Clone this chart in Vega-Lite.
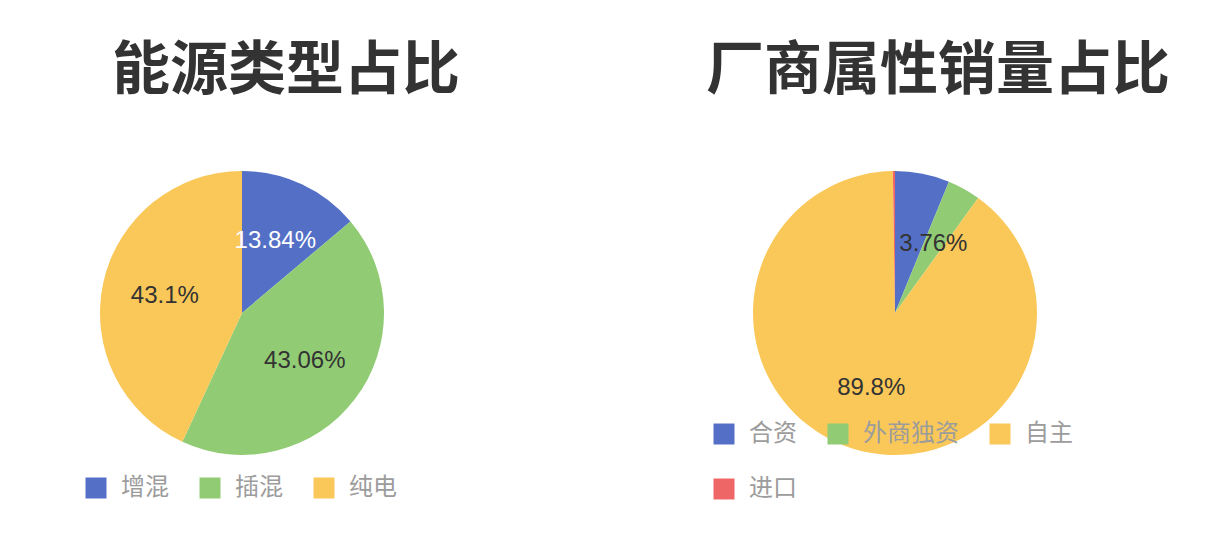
{
  "$schema": "https://vega.github.io/schema/vega-lite/v6.json",
  "background": "white",
  "padding": {"left": 84, "top": 43, "right": 0, "bottom": 4},
  "bounds": "flush",
  "spacing": 369,
  "resolve": {
    "scale": {"color": "independent", "theta": "independent"},
    "legend": {"color": "independent"}
  },
  "config": {
    "view": {"stroke": null},
    "title": {
      "font": "Noto Sans CJK SC",
      "fontSize": 58,
      "fontWeight": "bold",
      "color": "#333333",
      "anchor": "middle",
      "offset": 70
    },
    "legend": {
      "orient": "none",
      "direction": "horizontal",
      "symbolType": "square",
      "symbolSize": 441,
      "symbolStrokeWidth": 0,
      "labelFont": "Noto Sans CJK SC",
      "labelFontSize": 24,
      "labelColor": "#9c9c9c",
      "labelOffset": 13,
      "columnPadding": 29,
      "rowPadding": 31,
      "padding": 0
    }
  },
  "datasets": {
    "energy": [
      {"type": "增混", "share": 0.1384, "n": 1},
      {"type": "插混", "share": 0.4306, "n": 2},
      {"type": "纯电", "share": 0.431, "n": 3}
    ],
    "maker": [
      {"type": "合资", "share": 0.062, "n": 1},
      {"type": "外商独资", "share": 0.0376, "n": 2},
      {"type": "自主", "share": 0.898, "n": 3},
      {"type": "进口", "share": 0.0024, "n": 4}
    ]
  },
  "hconcat": [
    {
      "title": {"text": "能源类型占比", "dx": 44},
      "width": 284,
      "height": 284,
      "data": {"name": "energy"},
      "encoding": {
        "theta": {"field": "share", "type": "quantitative", "stack": true},
        "order": {"field": "n", "type": "quantitative"}
      },
      "layer": [
        {
          "mark": {"type": "arc"},
          "encoding": {
            "color": {
              "field": "type",
              "type": "nominal",
              "scale": {
                "domain": ["增混", "插混", "纯电"],
                "range": ["#5470c6", "#91cc75", "#fac858"]
              },
              "legend": {"title": null, "columns": 3, "legendX": -16, "legendY": 305}
            }
          }
        },
        {
          "mark": {"type": "text", "radius": 79, "font": "Liberation Sans", "fontSize": 24},
          "encoding": {
            "text": {"field": "share", "type": "quantitative", "format": ".2~%"},
            "color": {
              "condition": {"test": "datum.type === '增混'", "value": "#ffffff"},
              "value": "#333333"
            }
          }
        }
      ]
    },
    {
      "title": {"text": "厂商属性销量占比", "dx": 43},
      "width": 284,
      "height": 284,
      "data": {"name": "maker"},
      "encoding": {
        "theta": {"field": "share", "type": "quantitative", "stack": true},
        "order": {"field": "n", "type": "quantitative"}
      },
      "layer": [
        {
          "mark": {"type": "arc"},
          "encoding": {
            "color": {
              "field": "type",
              "type": "nominal",
              "scale": {
                "domain": ["合资", "外商独资", "自主", "进口"],
                "range": ["#5470c6", "#91cc75", "#fac858", "#ee6666"]
              },
              "legend": {"title": null, "columns": 3, "legendX": -41, "legendY": 251}
            }
          }
        },
        {
          "mark": {"type": "text", "radius": 79, "font": "Liberation Sans", "fontSize": 24, "color": "#333333"},
          "encoding": {
            "text": {
              "condition": {"test": "datum.type === '合资' || datum.type === '进口'", "value": ""},
              "field": "share",
              "type": "quantitative",
              "format": ".2~%"
            }
          }
        }
      ]
    }
  ]
}
